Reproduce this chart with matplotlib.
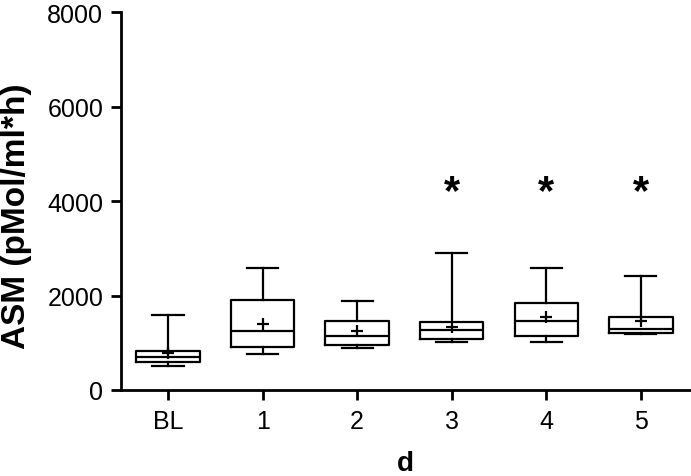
import matplotlib
matplotlib.use("Agg")
import matplotlib.pyplot as plt

# groups (days)
groups = ["BL", "1", "2", "3", "4", "5"]

# box plot statistics
whislo = [515, 765, 885, 1010, 1010, 1180]
q1 = [590, 905, 955, 1080, 1145, 1210]
med = [690, 1245, 1140, 1270, 1455, 1295]
q3 = [830, 1915, 1455, 1435, 1850, 1540]
whishi = [1590, 2585, 1890, 2895, 2585, 2415]
means = [780, 1400, 1245, 1330, 1540, 1470]

# significance marks
stars = ["", "", "", "*", "*", "*"]
star_y = 3770

plt.rcParams['font.family'] = ['Liberation Sans', 'DejaVu Sans']

fig = plt.figure(figsize=(6.91, 4.77), dpi=100)
ax = fig.add_axes([0.1747, 0.1803, 0.8253, 0.7914])

stats = []
for i in range(len(groups)):
    stats.append(dict(label=groups[i], whislo=whislo[i], q1=q1[i], med=med[i],
                      q3=q3[i], whishi=whishi[i], mean=means[i], fliers=[]))

lw = 1.6
ax.bxp(stats, positions=range(len(groups)), widths=0.67, showmeans=True,
       showfliers=False, patch_artist=False,
       boxprops=dict(color='black', linewidth=lw),
       medianprops=dict(color='black', linewidth=lw),
       whiskerprops=dict(color='black', linewidth=lw),
       capprops=dict(color='black', linewidth=lw),
       capwidths=0.33,
       meanprops=dict(marker='+', markersize=9, markeredgewidth=1.6,
                      markeredgecolor='black', markerfacecolor='black'))

for i, s in enumerate(stars):
    if s:
        ax.text(i, star_y, s, ha='center', va='bottom', fontsize=30,
                fontweight='bold')

ax.set_xlim(-0.5, 5.53)
ax.set_ylim(0, 8000)
ax.set_yticks([0, 2000, 4000, 6000, 8000])
ax.set_xticks(range(len(groups)))
ax.set_xticklabels(groups)

for side in ['top', 'right']:
    ax.spines[side].set_visible(False)
for side in ['left', 'bottom']:
    ax.spines[side].set_linewidth(2.0)
ax.tick_params(axis='both', width=2.0, length=7.5, labelsize=18)
ax.tick_params(axis='y', pad=5)
ax.tick_params(axis='x', pad=6)

ax.set_xlabel('d', fontsize=20, fontweight='bold')
ax.set_ylabel('ASM (pMol/ml*h)', fontsize=24, fontweight='bold')
ax.xaxis.set_label_coords(0.5, -0.16)
ax.yaxis.set_label_coords(-0.156, 0.4636)

fig.savefig('out.png', dpi=100)
